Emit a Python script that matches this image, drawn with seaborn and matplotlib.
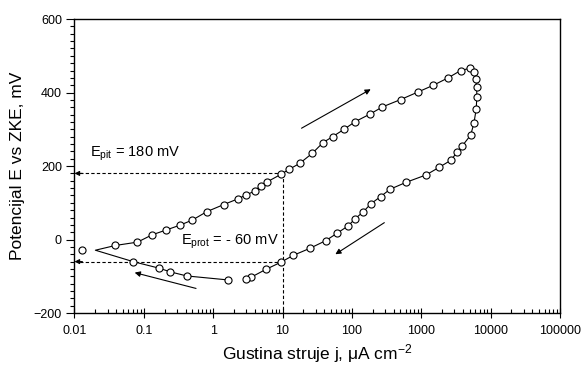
import numpy as np
import pandas as pd
import seaborn as sns
import matplotlib.pyplot as plt

# cathodic part of the scan (going towards the corrosion potential)
j_cath = [1.66, 0.415, 0.242, 0.167, 0.070]
E_cath = [-110, -99, -88, -78, -60]

# turning point of the fitted curve (line only, no marker)
j_tip = [0.020]
E_tip = [-29]

# forward anodic scan
j_fwd = [0.039, 0.081, 0.132, 0.21, 0.33, 0.50, 0.81, 1.41, 2.29, 2.95, 3.98, 4.85, 6.0,
         9.6, 12.4, 17.6, 27, 38.4, 52.8, 77, 112, 185, 276, 505, 885, 1500, 2440, 3710, 5000]
E_fwd = [-16, -7, 13, 26, 39, 53, 76, 95, 111, 121, 132, 147, 157,
         178, 191, 207, 235, 264, 280, 300, 321, 342, 361, 381, 401, 420, 440, 460, 466]

# reverse scan
j_rev = [5820, 6150, 6300, 6350, 6210, 5750, 5160, 3910, 3290, 2690, 1830, 1180, 610, 356,
         260, 187, 147, 112, 88, 61, 42, 24.7, 14.3, 9.4, 5.78, 3.56, 2.95]
E_rev = [456, 437, 416, 389, 355, 316, 284, 255, 238, 216, 197, 176, 156, 137,
         117, 97, 76, 57, 37, 17, -3, -24, -43, -62, -81, -102, -107]

# isolated first point
j_out = [0.013]
E_out = [-28]

E_pit = 180
E_prot = -60
j_cross = 10

plt.rcParams['font.family'] = ['Liberation Sans', 'DejaVu Sans']
plt.rcParams['mathtext.fontset'] = 'custom'
plt.rcParams['mathtext.rm'] = 'Liberation Sans'
plt.rcParams['mathtext.default'] = 'regular'

linija = pd.DataFrame({'j': j_cath + j_tip + j_fwd + j_rev,
                       'E': E_cath + E_tip + E_fwd + E_rev})
tacke = pd.DataFrame({'j': j_cath + j_fwd + j_rev + j_out,
                      'E': E_cath + E_fwd + E_rev + E_out})

fig = plt.figure(figsize=(5.82, 3.67), dpi=100)
ax = fig.add_axes([0.128, 0.147, 0.834, 0.801])

sns.lineplot(data=linija, x='j', y='E', sort=False, estimator=None, color='black', lw=0.8, ax=ax)
sns.scatterplot(data=tacke, x='j', y='E', marker='o', s=26, facecolor='white', edgecolor='black',
                linewidth=0.8, ax=ax, zorder=3)

ax.set_xscale('log')
ax.set_xlim(0.01, 100000)
ax.set_ylim(-200, 600)
ax.set_yticks(np.arange(-200, 601, 200))
ax.set_yticks(np.arange(-200, 601, 20), minor=True)
ax.set_xticks([0.01, 0.1, 1, 10, 100, 1000, 10000, 100000])
ax.set_xticklabels(['0.01', '0.1', '1', '10', '100', '1000', '10000', '100000'])
ax.tick_params(axis='y', which='major', direction='out', length=6, width=0.8, labelsize=9, pad=3)
ax.tick_params(axis='y', which='minor', direction='out', length=3, width=0.8)
ax.tick_params(axis='x', which='major', direction='inout', length=7, width=0.8, labelsize=9, pad=5)
ax.tick_params(axis='x', which='minor', direction='in', length=3, width=0.8)
for s in ax.spines.values():
    s.set_linewidth(1.0)

ax.set_xlabel('Gustina struje j, μA cm$^{-2}$', fontsize=12.5, labelpad=4)
ax.set_ylabel('Potencijal E vs ZKE, mV', fontsize=12.5, labelpad=6)

# dashed construction lines
crta = dict(color='black', lw=0.8, ls=(0, (3, 2)))
ax.plot([j_cross, 0.0115], [E_pit, E_pit], **crta)
ax.plot([j_cross, 0.0115], [E_prot, E_prot], **crta)
ax.plot([j_cross, j_cross], [E_pit, -200], **crta)
glava = dict(arrowstyle='-|>', color='black', lw=0.8, mutation_scale=7, shrinkA=0, shrinkB=0)
ax.annotate('', xy=(0.01, E_pit), xytext=(0.013, E_pit), arrowprops=glava)
ax.annotate('', xy=(0.01, E_prot), xytext=(0.013, E_prot), arrowprops=glava)

ax.text(0.017, 232, 'E$_{pit}$ = 180 mV', fontsize=10.5, va='center')
ax.text(0.345, -6, 'E$_{prot}$ = - 60 mV', fontsize=10.5, va='center')

# scan direction arrows
smer = dict(arrowstyle='-|>', color='black', lw=0.8, mutation_scale=8, shrinkA=0, shrinkB=0)
ax.annotate('', xy=(187, 409), xytext=(18.8, 303), arrowprops=smer)
ax.annotate('', xy=(57.8, -40), xytext=(294, 46), arrowprops=smer)
ax.annotate('', xy=(0.0738, -90), xytext=(0.566, -133), arrowprops=smer)

fig.savefig('out.png', dpi=100)
